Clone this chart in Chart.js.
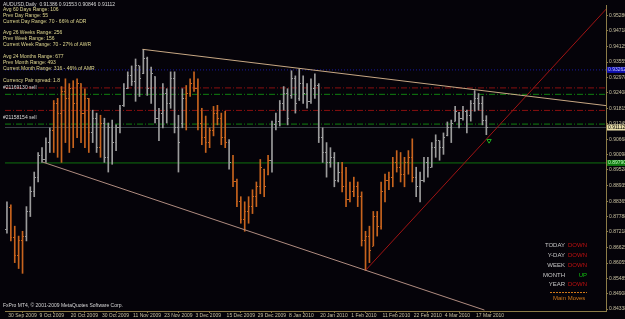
<!DOCTYPE html>
<html><head><meta charset="utf-8">
<script src="https://cdn.jsdelivr.net/npm/chart.js@4/dist/chart.umd.min.js"></script>
<style>html,body{margin:0;padding:0;background:#050309;}#wrap{width:625px;height:319px;position:relative;}</style>
</head><body><div id="wrap"><canvas id="c" width="625" height="319"></canvas></div>
<script>
const dateLabels = ['30 Sep 2009','9 Oct 2009','20 Oct 2009','30 Oct 2009','11 Nov 2009','23 Nov 2009','3 Dec 2009','15 Dec 2009','29 Dec 2009','8 Jan 2010','20 Jan 2010','1 Feb 2010','11 Feb 2010','22 Feb 2010','4 Mar 2010','17 Mar 2010'];
const priceTicks = [0.95280,0.94718,0.94125,0.93555,0.92978,0.92408,0.91815,0.91245,0.90668,0.90098,0.89528,0.88935,0.88365,0.87788,0.87218,0.86625,0.86055,0.85485,0.84908,0.84338];

const highs = [0.8834,0.8823,0.8743,0.8706,0.8724,0.8816,0.8890,0.8945,0.9018,0.9036,0.9073,0.9110,0.9212,0.9220,0.9264,0.9293,0.9275,0.9286,0.9293,0.9275,0.9256,0.9220,0.9176,0.9165,0.9157,0.9146,0.9128,0.9139,0.9121,0.9194,0.9275,0.9319,0.9341,0.9367,0.9341,0.9403,0.9374,0.9337,0.9301,0.9183,0.9275,0.9256,0.9319,0.9319,0.9157,0.9256,0.9268,0.9293,0.9319,0.9293,0.9183,0.9154,0.9110,0.9190,0.9194,0.9165,0.9172,0.9066,0.9007,0.8919,0.8853,0.8834,0.8853,0.8879,0.8908,0.8992,0.8956,0.9007,0.9135,0.9165,0.9212,0.9264,0.9256,0.9323,0.9304,0.9330,0.9304,0.9275,0.9293,0.9312,0.9275,0.9110,0.9055,0.9036,0.9018,0.8981,0.8981,0.8963,0.8908,0.8926,0.8908,0.8871,0.8724,0.8743,0.8798,0.8798,0.8908,0.8937,0.8945,0.9000,0.9025,0.9018,0.9000,0.9025,0.9069,0.8963,0.8945,0.9000,0.9000,0.9055,0.9084,0.9062,0.9091,0.9132,0.9139,0.9190,0.9168,0.9190,0.9176,0.9212,0.9249,0.9238,0.9227,0.91553];
const lows = [0.8717,0.8688,0.8607,0.8585,0.8567,0.8688,0.8779,0.8853,0.8908,0.8981,0.8981,0.9018,0.9018,0.9000,0.8981,0.9055,0.9018,0.9036,0.9073,0.9055,0.9036,0.9018,0.9055,0.9018,0.9000,0.8981,0.8945,0.8974,0.9025,0.9091,0.9190,0.9256,0.9268,0.9209,0.9227,0.9312,0.9231,0.9201,0.9128,0.9062,0.9110,0.9128,0.9183,0.9091,0.8945,0.9110,0.9102,0.9227,0.9246,0.9102,0.9047,0.9018,0.9036,0.9080,0.9121,0.9047,0.9036,0.8956,0.8890,0.8816,0.8754,0.8724,0.8754,0.8790,0.8816,0.8864,0.8853,0.8934,0.8945,0.9102,0.9117,0.9176,0.9121,0.9220,0.9165,0.9212,0.9201,0.9183,0.9201,0.9220,0.9055,0.8981,0.8926,0.8963,0.8890,0.8908,0.8871,0.8816,0.8834,0.8853,0.8816,0.8669,0.8578,0.8607,0.8669,0.8706,0.8732,0.8834,0.8879,0.8890,0.8945,0.8908,0.8890,0.8937,0.8908,0.8853,0.8834,0.8908,0.8926,0.8963,0.9000,0.8989,0.9011,0.9080,0.9055,0.9135,0.9110,0.9139,0.9091,0.9135,0.9172,0.9176,0.9121,0.90846];
const opens = [0.8732,0.8812,0.8702,0.8633,0.8688,0.8706,0.8798,0.8871,0.8926,0.9007,0.8992,0.9055,0.9099,0.9201,0.9165,0.9245,0.9220,0.9256,0.9201,0.9275,0.9165,0.9220,0.9091,0.9146,0.9036,0.9128,0.9000,0.9110,0.9055,0.9110,0.9194,0.9256,0.9304,0.9282,0.9341,0.9312,0.9367,0.9256,0.9301,0.9146,0.9165,0.9238,0.9201,0.9293,0.9110,0.9128,0.9220,0.9238,0.9275,0.9256,0.9128,0.9073,0.9055,0.9099,0.9165,0.9146,0.9073,0.9055,0.8981,0.8908,0.8834,0.8768,0.8798,0.8816,0.8853,0.8890,0.8956,0.8937,0.8989,0.9121,0.9135,0.9201,0.9238,0.9231,0.9293,0.9220,0.9275,0.9238,0.9209,0.9256,0.9268,0.9073,0.9018,0.8981,0.9000,0.8915,0.8945,0.8890,0.8842,0.8871,0.8890,0.8853,0.8688,0.8706,0.8669,0.8779,0.8743,0.8871,0.8915,0.8926,0.8981,0.8963,0.8937,0.8981,0.9000,0.8926,0.8890,0.8915,0.8981,0.8963,0.9036,0.9062,0.9036,0.9080,0.9110,0.9135,0.9165,0.9146,0.9172,0.9157,0.9201,0.9220,0.9201,0.91386];
const closes = [0.8816,0.8702,0.8633,0.8688,0.8706,0.8798,0.8871,0.8926,0.9007,0.8992,0.9055,0.9099,0.9201,0.9165,0.9245,0.9220,0.9256,0.9201,0.9275,0.9165,0.9220,0.9091,0.9146,0.9036,0.9128,0.9000,0.9110,0.9055,0.9110,0.9183,0.9256,0.9304,0.9282,0.9341,0.9293,0.9367,0.9256,0.9312,0.9146,0.9165,0.9238,0.9201,0.9293,0.9110,0.9055,0.9220,0.9238,0.9275,0.9256,0.9128,0.9073,0.9055,0.9099,0.9165,0.9146,0.9073,0.9055,0.8981,0.8908,0.8834,0.8768,0.8798,0.8816,0.8853,0.8890,0.8963,0.8890,0.8989,0.9121,0.9135,0.9201,0.9238,0.9146,0.9293,0.9201,0.9275,0.9238,0.9209,0.9256,0.9268,0.9073,0.9018,0.8981,0.9000,0.8915,0.8945,0.8890,0.8842,0.8871,0.8890,0.8853,0.8688,0.8706,0.8651,0.8779,0.8743,0.8871,0.8915,0.8926,0.8981,0.8963,0.8937,0.8981,0.9000,0.8926,0.8890,0.8915,0.8981,0.8963,0.9036,0.9062,0.9036,0.9073,0.9110,0.9128,0.9172,0.9146,0.9172,0.9157,0.9201,0.9220,0.9201,0.9139,0.91112];
const orangeBars = [1,2,3,4,12,13,14,15,16,17,18,19,20,21,24,46,47,48,49,50,51,52,53,54,55,56,58,59,60,61,62,63,64,65,66,67,86,87,88,89,90,91,92,93,94,95,96,97,98,99,100,101,102,103,104];

const hLines = [
  {y:0.93262, color:'#1a1aa0', dash:[1,2]},
  {y:0.92590, color:'#8a1010', dash:[6,2,1,2]},
  {y:0.92350, color:'#108010', dash:[6,2,1,2]},
  {y:0.91750, color:'#8a1010', dash:[6,2,1,2]},
  {y:0.91240, color:'#108010', dash:[6,2,1,2]},
  {y:0.91112, color:'#3a4048', dash:[]},
  {y:0.89790, color:'#0f700f', dash:[]}
];
const upperTrend = [{x:34.8,y:0.94030},{x:154.5,y:0.91915}];
const lowerTrend = [{x:9.2,y:0.89820},{x:122.5,y:0.84300}];
const redTrend = [{x:92,y:0.85780},{x:154.5,y:0.95650}];

const GREY='#9c9c9c', ORANGE='#c8641e';
const tone = closes.map((c,i)=> orangeBars.includes(i) ? ORANGE : GREY);
function tick(side,color){const c=document.createElement('canvas');c.width=3;c.height=1;const x=c.getContext('2d');x.fillStyle=color;x.fillRect(side==='L'?0:2,0,1,1);return c;}
const tO={[GREY]:tick('L',GREY),[ORANGE]:tick('L',ORANGE)}, tC={[GREY]:tick('R',GREY),[ORANGE]:tick('R',ORANGE)};

const datasets = [];
hLines.forEach(h=>datasets.push({type:'line',data:[{x:-0.5,y:h.y},{x:154.5,y:h.y}],borderColor:h.color,borderWidth:1,borderDash:h.dash,pointRadius:0,order:5}));
datasets.push({type:'bar',data:closes.map((c,i)=>({x:i,y:[lows[i],highs[i]]})),backgroundColor:tone,barThickness:1,order:3});
datasets.push({type:'scatter',data:opens.map((v,i)=>({x:i,y:v})),pointStyle:tone.map(t=>tO[t]),pointRadius:1,order:2});
datasets.push({type:'scatter',data:closes.map((v,i)=>({x:i,y:v})),pointStyle:tone.map(t=>tC[t]),pointRadius:1,order:2});
datasets.push({type:'line',data:upperTrend,borderColor:'#c8a884',borderWidth:1,pointRadius:0,order:1});
datasets.push({type:'line',data:lowerTrend,borderColor:'#b08c80',borderWidth:1,pointRadius:0,order:1});
datasets.push({type:'line',data:redTrend,borderColor:'#a01414',borderWidth:1,pointRadius:0,order:1});
datasets.push({type:'scatter',data:[{x:123.7,y:0.90620}],pointStyle:'triangle',rotation:180,pointRadius:2.5,borderColor:'#20b020',backgroundColor:'rgba(0,0,0,0)',borderWidth:1,order:0});

const FONT='"Liberation Sans", Arial, sans-serif';
const overlay = {
  id:'overlay',
  afterDraw(chart){
    const ctx=chart.ctx, ya=chart.scales.y;
    ctx.save();
    ctx.font='5px '+FONT; ctx.textBaseline='middle'; ctx.textAlign='left';
    const Y='#e0d890', W='#d8d8d8';
    const info=[['AUDUSD,Daily  0.91386 0.91553 0.90846 0.91112',5,W],['Avg 60 Days Range: 106',10,Y],['Prev Day Range: 55',16,Y],['Current Day Range: 70 - 66% of ADR',22,Y],['Avg 26 Weeks Range: 256',33,Y],['Prev Week Range: 156',39,Y],['Current Week Range: 70 - 27% of AWR',45,Y],['Avg 24 Months Range: 677',57,Y],['Prev Month Range: 493',63,Y],['Current Month Range: 316 - 46% of AMR',69,Y],['Currency Pair spread: 1.8',81,Y],['#21169130 sell',88,W],['#21158154 sell',118,W],['FxPro MT4, © 2001-2009 MetaQuotes Software Corp.',306,W]];
    info.forEach(t=>{ctx.fillStyle=t[2];ctx.fillText(t[0],3,t[1]);});
    ctx.font='6px '+FONT;
    const rows=[['TODAY','DOWN',245],['Y-DAY','DOWN',255],['WEEK','DOWN',265],['MONTH','UP',275],['YEAR','DOWN',284]];
    rows.forEach(r=>{ctx.textAlign='right';ctx.fillStyle='#c8c8c8';ctx.fillText(r[0],565,r[2]);ctx.fillStyle=r[1]==='UP'?'#10c010':'#c01010';ctx.fillText(r[1],587,r[2]);});
    ctx.strokeStyle='#d07818';ctx.setLineDash([2,1]);ctx.beginPath();ctx.moveTo(550,292.5);ctx.lineTo(587,292.5);ctx.stroke();ctx.setLineDash([]);
    ctx.textAlign='left';ctx.fillStyle='#d07818';ctx.fillText('Main Moves',553,298);
    ctx.font='5px '+FONT;
    const boxes=[[0.93262,'#1010b0','#c0c0ff'],[0.91112,'#e8dca8','#000000'],[0.89790,'#107a10','#c0ffc0']];
    boxes.forEach(b=>{const y=ya.getPixelForValue(b[0]);ctx.fillStyle=b[1];ctx.fillRect(607,y-3,18,6);ctx.fillStyle=b[2];ctx.fillText(b[0].toFixed(5),608,y);});
    ctx.restore();
  }
};

new Chart(document.getElementById('c'),{
  data:{datasets},
  options:{
    responsive:false,animation:false,
    layout:{padding:0},
    plugins:{legend:{display:false},tooltip:{enabled:false}},
    scales:{
      x:{type:'linear',min:-0.5,max:153.7,offset:false,
        afterBuildTicks(s){s.ticks=dateLabels.map((l,k)=>({value:k*8}));},
        afterFit(s){s.height=8;},
        ticks:{autoSkip:false,maxRotation:0,align:'start',padding:0,color:'#c8c0a0',font:{size:5,family:FONT},callback:(v)=>' '+(dateLabels[Math.round(v/8)]||'')},
        grid:{display:true,drawOnChartArea:false,drawTicks:true,tickLength:2,color:'#8c7c48'},
        border:{display:true,color:'#8c7c48'}},
      y:{type:'linear',position:'right',min:0.84265,max:0.95684,
        afterBuildTicks(s){s.ticks=priceTicks.map(v=>({value:v}));},
        afterFit(s){s.width=19;},
        ticks:{autoSkip:false,padding:1,color:'#c8c0a0',font:{size:5,family:FONT},callback:(v)=>v.toFixed(5)},
        grid:{display:true,drawOnChartArea:false,drawTicks:true,tickLength:2,color:'#8c7c48'},
        border:{display:true,color:'#8c7c48'}}
    }
  },
  plugins:[overlay]
});
</script></body></html>
